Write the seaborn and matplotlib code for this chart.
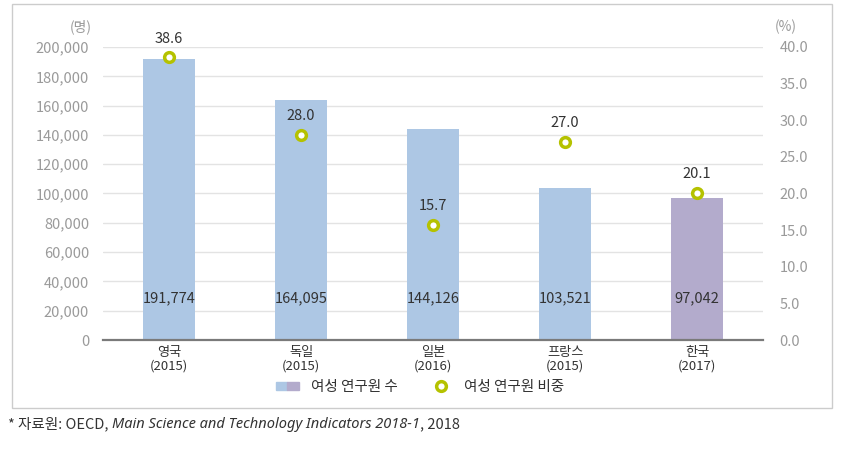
import matplotlib
matplotlib.use("Agg")
import matplotlib.pyplot as plt
import seaborn as sns
import pandas as pd
from matplotlib.patches import Patch, Rectangle
from matplotlib.lines import Line2D
from matplotlib.legend_handler import HandlerTuple
from matplotlib.offsetbox import TextArea, HPacker, AnchoredOffsetbox
from matplotlib.ticker import FuncFormatter, MultipleLocator

countries = ["영국\n(2015)", "독일\n(2015)", "일본\n(2016)", "프랑스\n(2015)", "한국\n(2017)"]
researchers = [191774, 164095, 144126, 103521, 97042]
share = [38.6, 28.0, 15.7, 27.0, 20.1]
bar_colors = ["#adc7e4", "#adc7e4", "#adc7e4", "#adc7e4", "#b3abcc"]

sns.set_theme(style="white")
plt.rcParams["font.family"] = ["Noto Sans CJK KR", "DejaVu Sans"]

df = pd.DataFrame({"country": countries, "n": researchers, "pct": share})

fig = plt.figure(figsize=(8.5, 4.51), dpi=100)
ax = fig.add_axes([103/850, 1-340/451, 660/850, 293/451])

sns.barplot(data=df, x="country", y="n", hue="country", palette=bar_colors,
            width=0.4, legend=False, ax=ax, saturation=1, linewidth=0)
ax.set_xlim(-0.5, 4.5)
ax.set_ylim(0, 200000)
ax.yaxis.set_major_locator(MultipleLocator(20000))
ax.yaxis.set_major_formatter(FuncFormatter(lambda v, p: f"{int(v):,}"))
ax.grid(axis="y", color="#e3e3e3", linewidth=1)
ax.set_axisbelow(True)
for s in ["top", "left", "right"]:
    ax.spines[s].set_visible(False)
ax.spines["bottom"].set_color("#7a7a7a")
ax.spines["bottom"].set_linewidth(1.6)
ax.set_xlabel("")
ax.set_ylabel("")
ax.tick_params(axis="y", length=0, labelsize=10.5, labelcolor="#9a9a9a", pad=10)
ax.tick_params(axis="x", which="major", length=0, labelsize=9.5, labelcolor="#333333", pad=4)
ax.set_xticks([-0.5, 0.5, 1.5, 2.5, 3.5, 4.5], minor=True)
ax.tick_params(axis="x", which="minor", length=4, width=1.2, color="#7a7a7a", direction="out")
for lbl in ax.get_xticklabels():
    lbl.set_linespacing(1.05)

for i, v in enumerate(researchers):
    ax.text(i, 28500, f"{v:,}", ha="center", va="center", fontsize=10.5, color="#333333")

ax2 = ax.twinx()
sns.pointplot(data=df, x="country", y="pct", linestyle="none", color="#b5c200",
              markers="o", markersize=7, markerfacecolor="white",
              markeredgecolor="#b5c200", markeredgewidth=2.5, ax=ax2, zorder=5)
ax2.set_xlim(-0.5, 4.5)
ax2.set_ylim(0, 40)
ax2.yaxis.set_major_locator(MultipleLocator(5))
ax2.yaxis.set_major_formatter(FuncFormatter(lambda v, p: f"{v:.1f}"))
for s in ["top", "left", "right", "bottom"]:
    ax2.spines[s].set_visible(False)
ax2.set_ylabel("")
ax2.set_xlabel("")
ax2.tick_params(axis="y", length=0, labelsize=10.5, labelcolor="#9a9a9a", pad=12)
ax2.grid(False)
for i, v in enumerate(share):
    ax2.annotate(f"{v:.1f}", (i, v), xytext=(0, 13.5), textcoords="offset points",
                 ha="center", va="center", fontsize=10.5, color="#333333")

fig.text(92/850, 1-27/451, "(명)", ha="right", va="center", fontsize=10, color="#9a9a9a")
fig.text(775/850, 1-27/451, "(%)", ha="left", va="center", fontsize=10, color="#9a9a9a")

handles = [(Patch(color="#adc7e4"), Patch(color="#b3abcc")),
           Line2D([], [], linestyle="none", marker="o", markersize=7, markerfacecolor="white",
                  markeredgecolor="#b5c200", markeredgewidth=2.5)]
fig.legend(handles, ["여성 연구원 수", "여성 연구원 비중"],
           handler_map={tuple: HandlerTuple(ndivide=None, pad=0)},
           loc="center", bbox_to_anchor=(420/850, 1-387/451), ncol=2, frameon=False,
           fontsize=10.5, handlelength=1.6, handleheight=0.5, handletextpad=0.8,
           columnspacing=2.2, labelcolor="#333333")

fig.add_artist(Rectangle((12/850, 1-408/451), 820/850, 404/451, transform=fig.transFigure,
                         fill=False, edgecolor="#cccccc", linewidth=1))

prop = dict(fontsize=10.5, color="#333333")
parts = [TextArea("* 자료원: OECD, ", textprops=prop),
         TextArea("Main Science and Technology Indicators 2018-1",
                  textprops=dict(prop, style="italic", family=["Noto Sans", "DejaVu Sans"])),
         TextArea(", 2018", textprops=prop)]
box = HPacker(children=parts, pad=0, sep=0, align="baseline")
ab = AnchoredOffsetbox(loc="center left", child=box, pad=0, borderpad=0, frameon=False,
                       bbox_to_anchor=(8/850, 1-424/451), bbox_transform=fig.transFigure)
fig.add_artist(ab)

fig.savefig("out.png", dpi=100)
